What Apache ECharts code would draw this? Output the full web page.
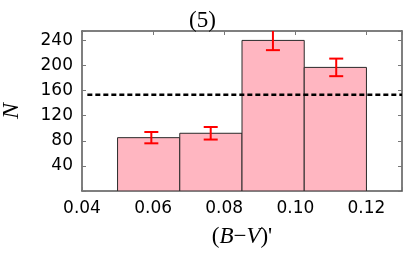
<!DOCTYPE html>
<html>
<head>
<meta charset="utf-8">
<script src="https://cdn.jsdelivr.net/npm/echarts@6/dist/echarts.min.js"></script>
<style>html,body{margin:0;padding:0;background:#fff;}#c{width:407px;height:255px;}</style>
</head>
<body>
<div id="c"></div>
<script>
// Data
var binLeft  = [0.05, 0.0675, 0.085, 0.1025];
var binRight = [0.0675, 0.085, 0.1025, 0.12];
var counts   = [85, 92, 240, 197];
var errX     = [0.0595, 0.0762, 0.0937, 0.1115];
var errLow   = [76, 82, 224.5, 183];
var errHigh  = [94, 102, 255.5, 211];
var meanLevel = 153.5;
var meanX = [0.0415, 0.13];
var xTicks = [0.04, 0.06, 0.08, 0.10, 0.12];
var yTicks = [40, 80, 120, 160, 200, 240];

var X_MIN = 0.04, X_MAX = 0.13, Y_MIN = 0, Y_MAX = 255;

var chart = echarts.init(document.getElementById('c'), null, {renderer: 'canvas'});
var sans = 'DejaVu Sans';
var serif = 'Liberation Serif';
var frameColor = '#555';

var barData = binLeft.map(function (l, i) { return [l, binRight[i], counts[i]]; });
var errData = errX.map(function (x, i) { return [x, errLow[i], errHigh[i]]; });

function xFmt(v) {
  for (var i = 0; i < xTicks.length; i++) if (Math.abs(v - xTicks[i]) < 1e-6) return xTicks[i].toFixed(2);
  return '';
}
function yFmt(v) {
  for (var i = 0; i < yTicks.length; i++) if (Math.abs(v - yTicks[i]) < 1e-6) return String(yTicks[i]);
  return '';
}

chart.setOption({
  animation: false,
  title: {
    text: '(5)',
    left: 184, top: 4,
    textStyle: {fontFamily: serif, fontSize: 23, fontWeight: 'normal', color: '#000'}
  },
  grid: {left: 82, right: 5, top: 31, bottom: 64, containLabel: false, outerBoundsMode: 'none'},
  xAxis: [{
    type: 'value', min: X_MIN, max: X_MAX, interval: 0.02, position: 'bottom',
    axisLine: {show: true, onZero: false, lineStyle: {color: frameColor, width: 1.5}},
    axisTick: {show: true, inside: true, length: 4, lineStyle: {color: '#777'}},
    axisLabel: {formatter: xFmt, fontFamily: sans, fontSize: 17, color: '#000', margin: 9},
    splitLine: {show: false},
    name: '({i|B}\u2212{i|V})\'',
    nameLocation: 'middle', nameGap: 34,
    nameTextStyle: {fontFamily: serif, fontSize: 23, color: '#000',
      rich: {i: {fontFamily: serif, fontSize: 23, fontStyle: 'italic', color: '#000'}}}
  }, {
    type: 'value', min: X_MIN, max: X_MAX, interval: 0.02, position: 'top',
    axisLine: {show: true, onZero: false, lineStyle: {color: frameColor, width: 1.5}},
    axisTick: {show: true, inside: true, length: 4, lineStyle: {color: '#777'}},
    axisLabel: {show: false}, splitLine: {show: false}
  }],
  yAxis: [{
    type: 'value', min: Y_MIN, max: Y_MAX, interval: 40, position: 'left',
    axisLine: {show: true, onZero: false, lineStyle: {color: frameColor, width: 1.5}},
    axisTick: {show: true, inside: true, length: 4, lineStyle: {color: '#777'}},
    axisLabel: {formatter: yFmt, fontFamily: sans, fontSize: 17, color: '#000', margin: 9},
    splitLine: {show: false},
    name: 'N', nameLocation: 'middle', nameGap: 58,
    nameTextStyle: {fontFamily: serif, fontSize: 24, fontStyle: 'italic', color: '#000'}
  }, {
    type: 'value', min: Y_MIN, max: Y_MAX, interval: 40, position: 'right',
    axisLine: {show: true, onZero: false, lineStyle: {color: frameColor, width: 1.5}},
    axisTick: {show: true, inside: true, length: 4, lineStyle: {color: '#777'}},
    axisLabel: {show: false}, splitLine: {show: false}
  }],
  series: [{
    type: 'custom', xAxisIndex: 0, yAxisIndex: 0, clip: true, z: 2,
    data: barData,
    encode: {x: [0, 1], y: 2},
    renderItem: function (params, api) {
      var p0 = api.coord([api.value(0), api.value(2)]);
      var p1 = api.coord([api.value(1), 0]);
      return {
        type: 'rect',
        shape: {x: p0[0], y: p0[1], width: p1[0] - p0[0], height: p1[1] - p0[1]},
        style: {fill: '#FFB6C1', stroke: '#2a2a2a', lineWidth: 1}
      };
    }
  }, {
    type: 'line', xAxisIndex: 0, yAxisIndex: 0, z: 3,
    data: [[meanX[0], meanLevel], [meanX[1], meanLevel]],
    symbol: 'none', silent: true,
    lineStyle: {color: '#000', width: 2.5, type: [5, 3]}
  }, {
    type: 'custom', xAxisIndex: 0, yAxisIndex: 0, clip: true, z: 4,
    data: errData,
    encode: {x: 0, y: [1, 2]},
    renderItem: function (params, api) {
      var x = api.value(0);
      var loV = api.value(1), hiV = api.value(2);
      var lo = api.coord([x, Math.max(loV, Y_MIN)]);
      var hi = api.coord([x, Math.min(hiV, Y_MAX)]);
      var cw = 7;
      var st = {stroke: '#ff0000', lineWidth: 2};
      var children = [
        {type: 'line', shape: {x1: lo[0], y1: lo[1], x2: hi[0], y2: hi[1]}, style: st}
      ];
      if (loV >= Y_MIN) children.push({type: 'line', shape: {x1: lo[0] - cw, y1: lo[1], x2: lo[0] + cw, y2: lo[1]}, style: st});
      if (hiV <= Y_MAX) children.push({type: 'line', shape: {x1: hi[0] - cw, y1: hi[1], x2: hi[0] + cw, y2: hi[1]}, style: st});
      return {type: 'group', children: children};
    }
  }]
});
</script>
</body>
</html>
